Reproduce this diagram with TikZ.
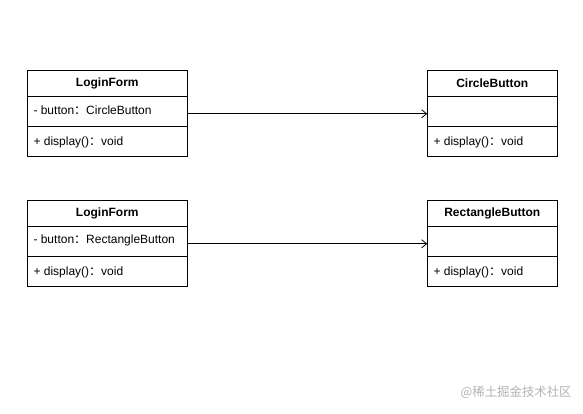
\documentclass[tikz,border=0pt]{standalone}
\usepackage{fontspec}
\setmainfont{Liberation Sans}
\newfontfamily\cjk{Noto Sans CJK SC}
\usetikzlibrary{arrows.meta}
\newcommand{\fwc}{{\cjk ：}}
\begin{document}
\begin{tikzpicture}[x=1pt,y=1pt,
  comp/.style={draw, line width=0.8pt, rectangle, minimum width=160pt, inner sep=0pt, outer sep=0pt},
  hdr/.style={comp, minimum height=26.4pt, font=\fontsize{12}{14}\selectfont\bfseries},
  att/.style={comp, minimum height=29.3pt},
  ops/.style={comp, minimum height=30.7pt},
  cw/.style={minimum width=130pt},
  lbl/.style={anchor=west, inner sep=0pt, font=\fontsize{12}{14}\selectfont},
  assoc/.style={line width=0.8pt, -{Straight Barb[length=5pt,width=8pt]}}
]
\useasboundingbox (0,0) rectangle (583,-413);
% row 1
\node[hdr, anchor=north west] (lf1h) at (27.3,-70.3) {LoginForm};
\node[att, anchor=north] (lf1a) at (lf1h.south) {};
\node[ops, anchor=north] (lf1o) at (lf1a.south) {};
\node[lbl] (lf1at) at ([xshift=6pt,yshift=0.8pt]lf1a.west) {- button\fwc CircleButton};
\node[lbl] (lf1ot) at ([xshift=6pt,yshift=-1.4pt]lf1o.west) {+ display()\fwc void};
\node[hdr, cw, anchor=north west] (cb1h) at (427.3,-70.3) {CircleButton};
\node[att, cw, anchor=north] (cb1a) at (cb1h.south) {};
\node[ops, cw, anchor=north] (cb1o) at (cb1a.south) {};
\node[lbl] (cb1ot) at ([xshift=6pt,yshift=-1.4pt]cb1o.west) {+ display()\fwc void};
\draw[assoc] ([yshift=-2.4pt]lf1a.east) -- ([yshift=-2.4pt]cb1a.west);
% row 2
\node[hdr, anchor=north west] (lf2h) at (27.3,-200.3) {LoginForm};
\node[att, anchor=north] (lf2a) at (lf2h.south) {};
\node[ops, anchor=north] (lf2o) at (lf2a.south) {};
\node[lbl] (lf2at) at ([xshift=6pt,yshift=0.8pt]lf2a.west) {- button\fwc RectangleButton};
\node[lbl] (lf2ot) at ([xshift=6pt,yshift=-1.4pt]lf2o.west) {+ display()\fwc void};
\node[hdr, cw, anchor=north west] (rb2h) at (427.3,-200.3) {RectangleButton};
\node[att, cw, anchor=north] (rb2a) at (rb2h.south) {};
\node[ops, cw, anchor=north] (rb2o) at (rb2a.south) {};
\node[lbl] (rb2ot) at ([xshift=6pt,yshift=-1.4pt]rb2o.west) {+ display()\fwc void};
\draw[assoc] ([yshift=-2.4pt]lf2a.east) -- ([yshift=-2.4pt]rb2a.west);
% watermark
\node[anchor=west, inner sep=0pt, text=black!30, font=\cjk\fontsize{12.4}{14}\selectfont] (wm) at (460.5,-392) {@稀土掘金技术社区};
\end{tikzpicture}
\end{document}
